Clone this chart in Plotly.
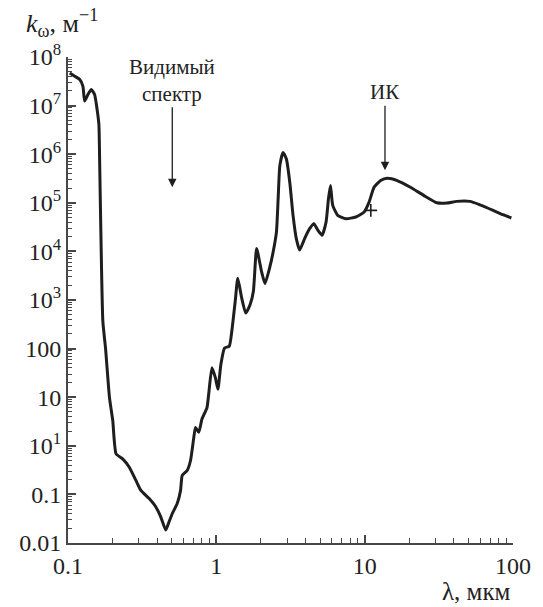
import plotly.graph_objects as go

# wavelength, um
wl = [0.1028, 0.111, 0.12, 0.126, 0.1295, 0.1363, 0.1436, 0.1511, 0.1565, 0.1615,
      0.1633, 0.165, 0.1718, 0.179, 0.1904, 0.2004, 0.211, 0.2336, 0.259, 0.287,
      0.31, 0.3525, 0.391, 0.422, 0.456, 0.48, 0.505, 0.545, 0.574, 0.589,
      0.636, 0.67, 0.705, 0.7236, 0.7615, 0.80, 0.865, 0.888, 0.934, 0.985,
      1.025, 1.073, 1.136, 1.222, 1.271, 1.34, 1.395, 1.483, 1.578, 1.688,
      1.777, 1.869, 2.018, 2.127, 2.297, 2.417, 2.543, 2.61, 2.68, 2.818,
      2.967, 3.126, 3.289, 3.46, 3.648, 3.937, 4.255, 4.546, 4.834, 5.164,
      5.494, 5.7, 5.88, 6.09, 6.58, 7.475, 8.72, 9.92, 10.71, 11.57,
      12.82, 14.21, 16.58, 20.34, 25.0, 30.7, 35.8, 41.8, 51.3, 59.8,
      73.5, 85.7, 97.5]
# absorption coefficient, m^-1
k = [4.71e7, 4.03e7, 3.44e7, 2.52e7, 1.24e7, 1.69e7, 2.14e7, 1.69e7, 9.06e6, 4.13e6,
     8.6e5, 1.31e5, 363, 103, 9.8, 3.27, 0.682, 0.54, 0.363, 0.194,
     0.121, 0.082, 0.0552, 0.0345, 0.01845, 0.0273, 0.0405, 0.0649, 0.121, 0.246,
     0.311, 0.498, 1.49, 2.39, 1.89, 3.55, 6.13, 11.5, 40.3, 25.2,
     14.6, 47.3, 103, 112, 227, 931, 2790, 1089, 537, 798,
     1493, 11460, 3828, 2175, 4842, 9816, 25180, 1.21e5, 5.82e5, 1.09e6,
     7.94e5, 2.65e5, 55200, 18370, 10640, 18370, 29400, 37220, 27290, 21540,
     40300, 1.21e5, 2.27e5, 88500, 55200, 47100, 51000, 64500, 1.03e5, 2.09e5,
     2.87e5, 3.2e5, 2.87e5, 2.09e5, 1.42e5, 1.0e5, 98600, 1.07e5, 1.07e5, 91000,
     70000, 56900, 48700]

mark_x = [11.0]
mark_y = [7.0e4]

y_tickvals = [0.01, 0.1, 1, 10, 100, 1e3, 1e4, 1e5, 1e6, 1e7, 1e8]
y_ticktext = ["0.01", "0.1", "10<sup>1</sup>", "10", "100", "10<sup>3</sup>",
              "10<sup>4</sup>", "10<sup>5</sup>", "10<sup>6</sup>", "10<sup>7</sup>",
              "10<sup>8</sup>"]
x_tickvals = [0.1, 1, 10, 100]
x_ticktext = ["0.1", "1", "10", "100"]

# minor tick positions (digits 2..9 of each decade)
y_decades = [0.01, 0.1, 1, 10, 100, 1e3, 1e4, 1e5, 1e6, 1e7]
x_decades = [0.1, 1, 10]
digits = [2, 3, 4, 5, 6, 7, 8, 9]
y_minor = [d * m for d in y_decades for m in digits]
x_minor = [d * m for d in x_decades for m in digits]

SERIF = "Liberation Serif"
INK = "#1e1e1e"
AX = "#474747"

fig = go.Figure()
fig.add_trace(go.Scatter(x=wl, y=k, mode="lines",
                         line=dict(color=INK, width=3, shape="spline", smoothing=0.5),
                         showlegend=False))
fig.add_trace(go.Scatter(x=mark_x, y=mark_y, mode="markers",
                         marker=dict(symbol="cross-thin", size=9,
                                     line=dict(color=INK, width=1.6)),
                         showlegend=False))
# carrier trace for the minor-tick overlay axes
fig.add_trace(go.Scatter(x=mark_x, y=mark_y, xaxis="x2", yaxis="y2", mode="markers",
                         marker=dict(opacity=0), showlegend=False))

tick_font = dict(family=SERIF, size=24, color="#222222")

fig.update_layout(
    width=543, height=607, margin=dict(l=68, r=26, t=57, b=64),
    plot_bgcolor="white", paper_bgcolor="white",
    font=dict(family=SERIF, color="#222222"),
    xaxis=dict(type="log", range=[-1, 2], tickmode="array", tickvals=x_tickvals,
               ticktext=x_ticktext, showline=True, linecolor=AX, linewidth=2,
               showgrid=False, zeroline=False, ticks="inside", tickcolor=AX,
               tickwidth=1.5, ticklen=8, tickfont=tick_font),
    yaxis=dict(type="log", range=[-2, 8], tickmode="array", tickvals=y_tickvals,
               ticktext=y_ticktext, showline=True, linecolor=AX, linewidth=2,
               showgrid=False, zeroline=False, ticks="inside", tickcolor=AX,
               tickwidth=1.5, ticklen=8, tickfont=tick_font),
    xaxis2=dict(type="log", range=[-1, 2], overlaying="x", side="bottom",
                anchor="y", tickmode="array", tickvals=x_minor, ticks="inside",
                ticklen=5, tickwidth=1.2, tickcolor=AX, showticklabels=False,
                showline=False, showgrid=False, zeroline=False),
    yaxis2=dict(type="log", range=[-2, 8], overlaying="y", side="left",
                anchor="x", tickmode="array", tickvals=y_minor, ticks="inside",
                ticklen=4, tickwidth=1.2, tickcolor=AX, showticklabels=False,
                showline=False, showgrid=False, zeroline=False),
)

ann_font = dict(family=SERIF, size=21, color="#222222")
# arrow tip positions (log10 units) with label offset in pixels
fig.add_annotation(x=-0.297, y=5.321, ax=0, ay=-107, text="Видимый<br>спектр",
                   showarrow=True, arrowhead=2, arrowsize=1.3, arrowwidth=1.3,
                   arrowcolor=INK, font=ann_font, align="center")
fig.add_annotation(x=1.137, y=5.669, ax=0, ay=-78, text="ИК",
                   showarrow=True, arrowhead=2, arrowsize=1.3, arrowwidth=1.3,
                   arrowcolor=INK, font=ann_font, standoff=0)

fig.add_annotation(xref="paper", yref="paper", x=-0.1, y=1.07, xanchor="left",
                   yanchor="middle", showarrow=False,
                   text="<i>k</i><sub>ω</sub>, м<sup>−1</sup>",
                   font=dict(family=SERIF, size=26, color="#222222"))
fig.add_annotation(xref="paper", yref="paper", x=1.0, y=-0.1, xanchor="right",
                   yanchor="middle", showarrow=False, text="λ, мкм",
                   font=dict(family=SERIF, size=25, color="#222222"))

fig.write_html("out.html")
